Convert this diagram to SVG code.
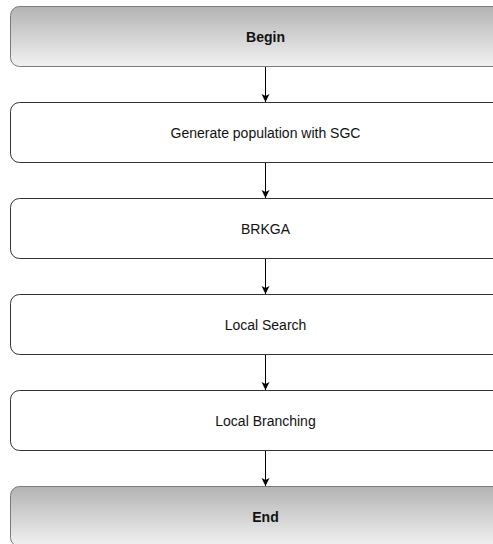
<svg xmlns="http://www.w3.org/2000/svg" width="493" height="544" viewBox="0 0 493 544">
  <defs>
    <linearGradient id="grey" x1="0" y1="0" x2="0" y2="1">
      <stop offset="0" stop-color="#b3b3b3"/>
      <stop offset="1" stop-color="#f2f2f2"/>
    </linearGradient>
    <marker id="arrow" markerWidth="10" markerHeight="10" refX="9" refY="5" orient="auto" markerUnits="userSpaceOnUse">
      <path d="M1,1 L9,5 L1,9 L3,5 Z" fill="#000"/>
    </marker>
  </defs>
  <style>
    .term { fill: url(#grey); stroke: #7a7a7a; stroke-width: 1; }
    .step { fill: #fff; stroke: #333; stroke-width: 1; }
    text { font-family: "Liberation Sans", Arial, sans-serif; font-size: 14px; fill: #111; text-anchor: middle; dominant-baseline: central; }
    .bold { font-weight: bold; }
    .edge { stroke: #000; stroke-width: 1; fill: none; marker-end: url(#arrow); }
  </style>
  <rect width="493" height="544" fill="#fff"/>
  <g id="connectors">
    <path class="edge" d="M265.5,66.5 V102"/>
    <path class="edge" d="M265.5,162.5 V198"/>
    <path class="edge" d="M265.5,258.5 V294"/>
    <path class="edge" d="M265.5,354.5 V390"/>
    <path class="edge" d="M265.5,450.5 V486"/>
  </g>
  <g id="begin">
    <rect class="term" x="10.5" y="6.5" width="510" height="60" rx="9"/>
    <text class="bold" x="265.5" y="36.5">Begin</text>
  </g>
  <g id="generate">
    <rect class="step" x="10.5" y="102.5" width="510" height="60" rx="9"/>
    <text x="265.5" y="132.5">Generate population with SGC</text>
  </g>
  <g id="brkga">
    <rect class="step" x="10.5" y="198.5" width="510" height="60" rx="9"/>
    <text x="265.5" y="228.5">BRKGA</text>
  </g>
  <g id="local-search">
    <rect class="step" x="10.5" y="294.5" width="510" height="60" rx="9"/>
    <text x="265.5" y="324.5">Local Search</text>
  </g>
  <g id="local-branching">
    <rect class="step" x="10.5" y="390.5" width="510" height="60" rx="9"/>
    <text x="265.5" y="420.5">Local Branching</text>
  </g>
  <g id="end">
    <rect class="term" x="10.5" y="486.5" width="510" height="60" rx="9"/>
    <text class="bold" x="265.5" y="516.5">End</text>
  </g>
</svg>
